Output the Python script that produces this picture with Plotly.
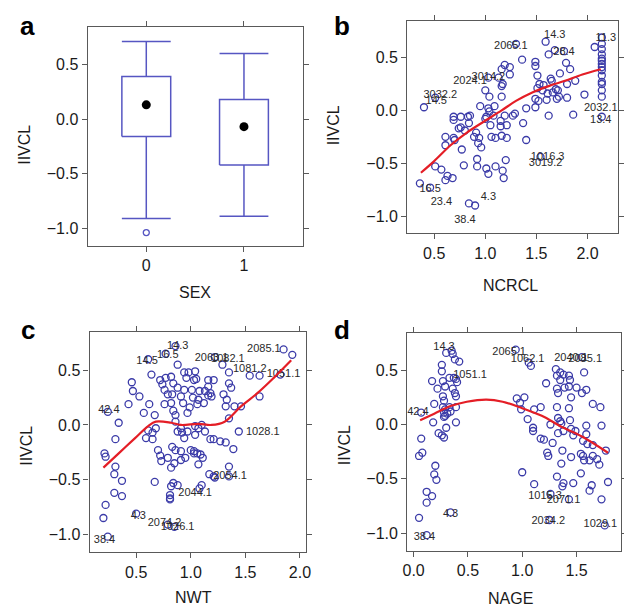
import plotly.graph_objects as go

W, H = 632, 607
OFF = 8  # the page body adds an 8px margin around the plot div

# ---------------- Panel a: IIVCL by SEX (box summary) ----------------
sex_levels = [0, 1]
box_q1 = [-0.16, -0.42]
box_median = [0.13, -0.07]
box_q3 = [0.39, 0.18]
whisker_low = [-0.91, -0.89]
whisker_high = [0.71, 0.60]
outlier_sex = [0]
outlier_iivcl = [-1.04]

# ---------------- Panel b: IIVCL vs NCRCL ----------------
ncrcl = [0.40,0.36,0.46,0.51,0.57,0.61,0.61,0.61,0.63,0.68,
         0.69,0.69,0.69,0.70,0.74,0.76,0.76,0.77,0.79,0.80,
         0.83,0.84,0.84,0.85,0.89,0.90,0.91,0.92,0.92,0.93,
         0.94,0.95,0.96,1.00,1.00,1.01,1.01,1.03,1.03,1.03,
         1.04,1.04,1.05,1.06,1.08,1.09,1.10,1.10,1.13,1.15,
         1.15,1.16,1.16,1.17,1.16,1.16,1.17,1.18,1.19,1.19,
         1.20,1.21,1.21,1.24,1.24,1.27,1.29,1.30,1.36,1.37,
         1.40,1.40,1.49,1.49,1.49,1.49,1.51,1.51,1.52,1.53,
         1.54,1.56,1.57,1.59,1.60,1.61,1.62,1.62,1.64,1.65,
         1.66,1.68,1.69,1.70,1.71,1.72,1.73,1.77,1.79,1.80,
         1.80,1.83,1.86,1.88,1.97,2.07,0.51,
         2.14,2.14,2.14,2.14,2.14,2.14,2.14,2.14,2.14,2.14,
         2.14,2.14,2.14,2.14,2.14]
iivcl_b = [0.03,-0.69,-0.73,-0.53,-0.56,-0.66,-0.25,-0.33,-0.62,-0.64,
           -0.06,-0.09,-0.26,-0.28,-0.17,-0.06,-0.16,-0.37,-0.52,-0.19,
           -0.06,-0.12,-0.88,-0.05,-0.25,-0.90,-0.21,-0.53,-0.46,-0.31,
           -0.26,0.04,-0.35,-0.08,0.19,-0.06,-0.55,0.02,0.31,-0.60,
           0.13,-0.01,-0.14,-0.25,-0.05,0.04,-0.26,-0.53,0.31,-0.10,
           -0.15,-0.24,0.39,0.25,0.23,0.13,-0.57,-0.64,0.43,-0.05,
           -0.47,-0.26,-0.14,0.41,0.34,-0.05,-0.03,0.63,0.48,-0.12,
           0.02,-0.28,0.46,0.42,0.11,0.03,0.33,0.21,0.09,0.25,
           -0.44,0.19,0.24,0.65,0.10,0.16,-0.05,0.53,0.30,0.28,
           0.17,0.57,0.20,0.11,0.19,0.13,0.35,0.56,0.45,0.25,
           0.12,0.39,-0.04,0.28,0.15,0.60,0.12,
           0.69,0.63,0.58,0.53,0.49,0.47,0.44,0.41,0.38,0.33,
           0.27,0.25,0.19,0.13,-0.06]
smooth_b_x = [0.37,0.50,0.66,0.82,0.98,1.16,1.30,1.46,1.62,1.78,1.95,2.13]
smooth_b_y = [-0.59,-0.48,-0.33,-0.21,-0.11,0.00,0.09,0.17,0.23,0.28,0.34,0.39]
labels_b = ["3032.2","14.5","2024.1","3014.2","2065.1","14.3","28.4","11.3",
            "2032.1","13.4","1016.3","3019.2","16.5","23.4","4.3","38.4"]
labels_b_x = [0.56,0.52,0.85,1.03,1.25,1.68,1.77,2.18,2.13,2.13,1.61,1.59,0.46,0.57,1.03,0.80]
labels_b_y = [0.14,0.09,0.28,0.31,0.61,0.71,0.55,0.68,0.02,-0.09,-0.44,-0.50,-0.75,-0.87,-0.82,-1.04]

# ---------------- Panel c: IIVCL vs NWT ----------------
nwt = [0.46,0.47,0.43,0.34,0.31,0.21,0.22,0.31,0.30,0.37,
       0.30,0.37,0.22,0.20,0.24,0.53,0.64,0.57,0.62,0.67,
       0.68,0.61,0.65,0.59,0.65,0.70,0.72,0.73,0.67,0.72,
       0.77,0.74,0.82,0.84,0.76,0.79,0.83,0.88,0.94,0.91,
       0.93,0.86,0.96,0.98,1.01,1.02,1.06,0.99,0.97,0.76,
       0.82,0.84,0.86,0.91,0.92,0.94,0.88,0.97,1.04,0.83,
       0.86,0.91,0.79,0.85,0.82,0.91,1.00,1.03,0.95,0.84,
       0.88,0.82,0.81,0.81,0.81,0.88,0.86,0.77,0.50,0.79,
       0.85,0.24,0.61,0.94,1.03,
       1.04,1.05,1.07,1.12,1.08,1.13,1.16,1.16,1.18,1.19,
       1.21,1.16,1.22,1.29,1.30,1.33,1.35,1.35,1.37,1.32,
       1.40,1.46,1.35,1.44,1.04,1.07,1.10,1.13,1.18,1.21,
       1.27,1.32,1.39,1.03,1.06,1.09,1.07,1.11,1.17,1.21,
       1.22,1.35,1.35,1.10,1.08,1.63,1.63,1.54,1.85,1.93,1.82]
iivcl_c = [0.39,0.31,0.19,0.02,-0.13,-0.26,-0.29,-0.38,-0.45,-0.51,
           -0.62,-0.65,-0.73,-0.85,-1.02,0.26,0.46,0.11,0.19,0.09,
           -0.03,-0.05,-0.07,-0.12,-0.13,-0.23,-0.28,-0.33,-0.52,0.41,
           0.43,0.37,0.44,0.38,0.32,0.28,0.28,0.34,0.32,0.26,
           0.20,0.09,0.43,0.48,0.32,0.25,0.19,0.16,0.11,0.19,
           0.20,0.13,0.03,-0.03,-0.07,-0.12,-0.06,-0.06,-0.09,-0.20,
           -0.23,-0.24,-0.30,-0.35,-0.39,-0.32,-0.23,-0.26,-0.30,-0.53,
           -0.55,-0.56,-0.64,-0.67,-0.68,0.55,0.72,0.65,-0.81,-0.91,
           -0.93,0.12,0.60,0.48,0.41,
           0.49,0.42,0.23,0.20,0.31,0.31,0.35,0.41,0.29,0.26,
           0.41,0.27,0.62,0.55,0.28,0.23,0.48,0.38,0.34,0.17,
           0.17,0.17,0.06,-0.06,-0.01,-0.03,0.00,-0.06,-0.13,-0.13,
           -0.15,-0.16,-0.22,-0.24,-0.26,-0.27,-0.36,-0.30,-0.45,-0.47,
           -0.48,-0.38,-0.47,-0.55,-0.58,0.45,0.26,0.45,0.69,0.64,0.46]
smooth_c_x = [0.20,0.34,0.49,0.61,0.68,0.82,0.91,1.07,1.19,1.31,1.46,1.61,1.76,1.92]
smooth_c_y = [-0.39,-0.26,-0.12,-0.01,0.03,0.02,0.00,0.01,0.00,0.03,0.17,0.29,0.43,0.59]
labels_c = ["14.3","16.5","14.5","2063.1","1082.1","2085.1","1081.2","1051.1",
            "42.4","1028.1","2054.1","2044.1","4.3","2074.2","1026.1","38.4"]
labels_c_x = [0.88,0.79,0.60,1.19,1.34,1.67,1.54,1.85,0.25,1.66,1.36,1.04,0.52,0.76,0.88,0.21]
labels_c_y = [0.72,0.64,0.58,0.61,0.60,0.69,0.51,0.46,0.13,-0.07,-0.47,-0.62,-0.83,-0.90,-0.93,-1.05]

# ---------------- Panel d: IIVCL vs NAGE ----------------
nage = [0.30,0.35,0.36,0.38,0.42,0.26,0.26,0.17,0.27,0.29,
        0.22,0.33,0.37,0.39,0.40,0.36,0.38,0.39,0.27,0.28,
        0.19,0.27,0.29,0.28,0.31,0.34,0.33,0.39,0.28,0.29,
        0.18,0.39,0.23,0.26,0.28,0.30,0.07,0.05,0.08,0.20,
        0.19,0.21,0.12,0.17,0.12,0.05,0.34,0.12,0.07,
        1.06,1.08,0.95,0.98,1.02,0.99,1.05,1.11,1.17,1.10,
        1.10,1.17,1.20,1.23,1.24,1.28,1.22,1.31,1.32,1.35,
        1.38,1.35,1.43,1.44,1.32,1.33,1.39,1.43,1.45,1.50,
        1.55,1.59,1.57,1.32,1.43,1.65,1.72,1.73,1.33,1.35,
        1.36,1.44,1.26,1.33,1.38,1.45,1.49,1.47,1.59,1.59,
        1.56,1.60,1.65,1.37,1.45,1.54,1.56,1.57,1.65,1.69,
        1.71,1.77,1.62,1.36,1.54,1.47,1.38,1.32,1.37,1.64,
        1.62,1.79,1.73,1.00,1.11,1.43,1.26,1.25,1.76,0.94,1.55]
iivcl_d = [0.66,0.68,0.65,0.60,0.58,0.55,0.49,0.40,0.40,0.35,
           0.33,0.43,0.43,0.42,0.39,0.33,0.29,0.26,0.26,0.22,
           0.19,0.16,0.14,0.11,0.10,0.12,0.16,0.16,0.07,0.08,
           0.02,0.02,-0.08,-0.10,-0.12,-0.03,-0.13,-0.29,-0.26,-0.38,
           -0.46,-0.51,-0.62,-0.66,-0.72,-0.86,-0.81,-1.02,0.11,
           0.57,0.54,0.24,0.20,0.25,0.14,0.05,0.14,0.16,-0.03,
           -0.06,-0.13,-0.14,-0.26,-0.29,-0.17,0.38,0.51,0.45,0.48,
           0.46,0.41,0.45,0.41,0.33,0.29,0.34,0.35,0.25,0.34,
           0.29,0.32,0.48,0.16,0.15,0.19,0.16,-0.01,0.06,0.03,
           0.01,0.04,0.00,-0.08,-0.06,-0.04,-0.06,-0.10,-0.01,-0.09,
           -0.15,-0.18,-0.19,-0.24,-0.30,-0.27,-0.29,-0.33,-0.29,-0.32,
           -0.37,-0.24,-0.33,-0.36,-0.45,-0.54,-0.54,-0.48,-0.57,-0.56,
           -0.61,-0.53,-0.69,-0.44,-0.55,-0.69,-0.64,-0.88,-0.93,0.69,0.62]
smooth_d_x = [0.06,0.19,0.34,0.49,0.67,0.82,1.00,1.18,1.36,1.55,1.79]
smooth_d_y = [0.04,0.10,0.17,0.21,0.23,0.21,0.15,0.08,-0.02,-0.11,-0.26]
labels_d = ["14.3","2065.1","1062.1","2040.1","2085.1","1051.1","42.4","4.3",
            "38.4","1015.3","2071.1","2034.2","1029.1"]
labels_d_x = [0.28,0.88,1.05,1.45,1.58,0.52,0.04,0.34,0.10,1.21,1.38,1.24,1.72]
labels_d_y = [0.71,0.67,0.60,0.61,0.60,0.45,0.11,-0.83,-1.04,-0.66,-0.70,-0.89,-0.92]

# ---------------- styling ----------------
POINT_COLOR = "#3b3ba8"
BOX_COLOR = "#5656c2"
LINE_COLOR = "#e41e26"
FRAME = "#595959"
FONT = "Liberation Sans, Arial, sans-serif"
Y_RANGE = [-1.163, 0.846]

fig = go.Figure()

# Panel a: boxes built from the summary statistics
HALF = 0.25
bx, by = [], []
for s, lo, a, m, b, hi in zip(sex_levels, whisker_low, box_q1, box_median, box_q3, whisker_high):
    bx += [s - HALF, s + HALF, s + HALF, s - HALF, s - HALF, None]
    by += [a, a, b, b, a, None]
    bx += [s, s, None, s - HALF, s + HALF, None]
    by += [b, hi, None, hi, hi, None]
    bx += [s, s, None, s - HALF, s + HALF, None]
    by += [a, lo, None, lo, lo, None]
fig.add_trace(go.Scatter(x=bx, y=by, mode="lines", line=dict(color=BOX_COLOR, width=1.5),
                         xaxis="x", yaxis="y", hoverinfo="skip"))
fig.add_trace(go.Scatter(x=sex_levels, y=box_median, mode="markers",
                         marker=dict(color="black", size=9), xaxis="x", yaxis="y"))
fig.add_trace(go.Scatter(x=outlier_sex, y=outlier_iivcl, mode="markers",
                         marker=dict(symbol="circle-open", color=BOX_COLOR, size=6,
                                     line=dict(width=1.3)), xaxis="x", yaxis="y"))

panels = [
    ("x2", "y2", ncrcl, iivcl_b, smooth_b_x, smooth_b_y, labels_b, labels_b_x, labels_b_y),
    ("x3", "y3", nwt, iivcl_c, smooth_c_x, smooth_c_y, labels_c, labels_c_x, labels_c_y),
    ("x4", "y4", nage, iivcl_d, smooth_d_x, smooth_d_y, labels_d, labels_d_x, labels_d_y),
]
for xa, ya, xs, ys, sx, sy, lab, lx, ly in panels:
    fig.add_trace(go.Scatter(x=xs, y=ys, mode="markers", xaxis=xa, yaxis=ya,
                             marker=dict(symbol="circle-open", color=POINT_COLOR, size=7,
                                         line=dict(width=1.3, color=POINT_COLOR))))
    fig.add_trace(go.Scatter(x=lx, y=ly, text=lab, mode="text", xaxis=xa, yaxis=ya,
                             textfont=dict(family=FONT, size=11, color="#2a2a2a"),
                             cliponaxis=True))
    fig.add_trace(go.Scatter(x=sx, y=sy, mode="lines", xaxis=xa, yaxis=ya,
                             line=dict(color=LINE_COLOR, width=2.2, shape="spline")))


def px_x(p):
    return (p - OFF) / W


def px_y(p):
    return 1 - (p - OFF) / H


axis_common = dict(showline=True, linecolor=FRAME, linewidth=1.3, mirror="ticks",
                   ticks="outside", ticklen=5, tickwidth=1.2, tickcolor=FRAME,
                   showgrid=False, zeroline=False,
                   tickfont=dict(family=FONT, size=16, color="#1a1a1a"))

yticks = [-1.0, -0.5, 0.0, 0.5]
layout_axes = dict(
    xaxis=dict(domain=[px_x(84), px_x(302.7)], range=[-0.6, 1.6], anchor="y",
               tickvals=sex_levels, ticktext=[str(v) for v in sex_levels], **axis_common),
    yaxis=dict(domain=[px_y(246), px_y(26.7)], range=Y_RANGE, anchor="x",
               tickvals=yticks, tickformat=".1f", **axis_common),
    xaxis2=dict(domain=[px_x(409.3), px_x(624)], range=[0.237, 2.301], anchor="y2",
                tickvals=[0.5, 1.0, 1.5, 2.0], tickformat=".1f", **axis_common),
    yaxis2=dict(domain=[px_y(233.3), px_y(21)], range=Y_RANGE, anchor="x2",
                tickvals=yticks, tickformat=".1f", **axis_common),
    xaxis3=dict(domain=[px_x(86), px_x(305.7)], range=[0.074, 2.051], anchor="y3",
                tickvals=[0.5, 1.0, 1.5, 2.0], tickformat=".1f", **axis_common),
    yaxis3=dict(domain=[px_y(552.3), px_y(332.3)], range=Y_RANGE, anchor="x3",
                tickvals=yticks, tickformat=".1f", **axis_common),
    xaxis4=dict(domain=[px_x(409.3), px_x(626.7)], range=[-0.058, 1.909], anchor="y4",
                tickvals=[0.0, 0.5, 1.0, 1.5], tickformat=".1f", **axis_common),
    yaxis4=dict(domain=[px_y(550.7), px_y(332.7)], range=Y_RANGE, anchor="x4",
                tickvals=yticks, tickformat=".1f", **axis_common),
)

annotations = []
# panel letters (top of text box given in page pixels)
for letter, x, ytop in [("a", 22.5, 9), ("b", 342.5, 9), ("c", 23.5, 313), ("d", 342.5, 313)]:
    annotations.append(dict(text=f"<b>{letter}</b>", x=px_x(x), y=px_y(ytop), xref="paper", yref="paper",
                            showarrow=False, xanchor="center", yanchor="top",
                            font=dict(family=FONT, size=26, color="black")))
# axis titles
for text, x, y, rot in [("IIVCL", 19, 145, -90), ("SEX", 193, 292, 0),
                        ("IIVCL", 334, 125, -90), ("NCRCL", 514.5, 285, 0),
                        ("IIVCL", 21, 446, -90), ("NWT", 192, 597, 0),
                        ("IIVCL", 345, 445, -90), ("NAGE", 514, 598, 0)]:
    annotations.append(dict(text=text, x=px_x(x), y=px_y(y), xref="paper", yref="paper",
                            showarrow=False, xanchor="center", yanchor="middle", textangle=rot,
                            font=dict(family=FONT, size=16, color="#1a1a1a")))

fig.update_layout(width=W, height=H, margin=dict(l=0, r=0, t=0, b=0),
                  paper_bgcolor="white", plot_bgcolor="white", showlegend=False,
                  annotations=annotations, **layout_axes)

fig.write_html("out.html")
